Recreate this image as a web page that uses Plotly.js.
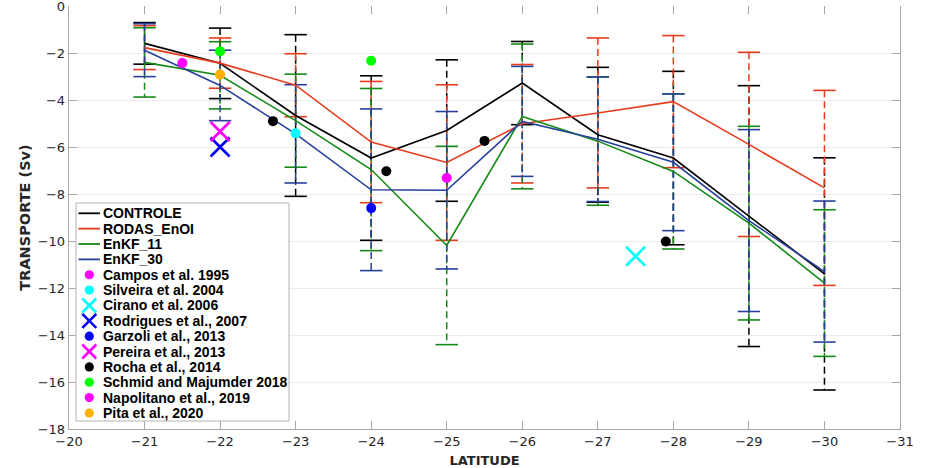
<!DOCTYPE html>
<html>
<head>
<meta charset="utf-8">
<script src="https://cdn.plot.ly/plotly-3.0.1.min.js"></script>
<style>html,body{margin:0;padding:0;background:#fff;}#chart{width:932px;height:468px;}</style>
</head>
<body>
<div id="chart"></div>
<script>
// ---- data ----
const latitudes = [-21, -22, -23, -24, -25, -26, -27, -28, -29, -30];

const controle    = [-1.59, -2.44, -4.66, -6.47, -5.30, -3.28, -5.48, -6.47, -8.94, -11.40];
const controleErr = [0.885, 1.50, 3.44, 3.50, 3.01, 1.77, 2.87, 3.69, 5.55, 4.94];

const rodas    = [-1.77, -2.43, -3.37, -5.79, -6.66, -5.01, -4.55, -4.07, -5.89, -7.74];
const rodasErr = [0.935, 1.07, 1.34, 2.58, 3.31, 2.52, 3.19, 2.81, 3.92, 4.15];

const enkf11    = [-2.40, -2.95, -4.88, -6.96, -10.19, -4.70, -5.75, -7.04, -9.24, -11.79];
const enkf11Err = [1.475, 1.43, 1.98, 3.45, 4.22, 3.08, 2.73, 3.30, 4.12, 3.12];

const enkf30    = [-1.88, -3.38, -5.44, -7.82, -7.84, -4.91, -5.67, -6.65, -9.13, -11.30];
const enkf30Err = [1.125, 1.50, 2.09, 3.44, 3.35, 2.34, 2.65, 2.91, 3.87, 3.00];

const camposLat = [-21.5],  camposVal = [-2.43];
const silveiraLat = [-23],  silveiraVal = [-5.42];
const ciranoLat = [-27.5],  ciranoVal = [-10.65];
const rodriguesLat = [-22], rodriguesVal = [-6.0];
const garzoliLat = [-24],   garzoliVal = [-8.6];
const pereiraLat = [-22],   pereiraVal = [-5.34];
const rochaLat = [-22.7, -24.2, -25.5, -27.9], rochaVal = [-4.9, -7.03, -5.74, -10.02];
const schmidLat = [-22, -24], schmidVal = [-1.93, -2.33];
const napolitanoLat = [-25], napolitanoVal = [-7.32];
const pitaLat = [-22], pitaVal = [-2.92];

const yTicks = [-18, -16, -14, -12, -10, -8, -6, -4, -2, 0];
const xTicks = [-20, -21, -22, -23, -24, -25, -26, -27, -28, -29, -30, -31];

// ---- styles ----
const C_BLACK = '#000000', C_RED = '#e63c1c', C_GREEN = '#168a16', C_BLUE = '#27409a';
const FONT = 'DejaVu Sans, Verdana, sans-serif';
const LFONT = 'Liberation Sans, Arial, sans-serif';
const W = 932, H = 468, M = {l: 69, r: 32, t: 6, b: 39};

function errTrace(vals, errs, color) {
  const x = [], y = [];
  latitudes.forEach((la, i) => {
    x.push(la, la, null);
    y.push(vals[i] + errs[i], vals[i] - errs[i], null);
  });
  return {
    x: x, y: y, type: 'scatter', mode: 'lines+markers', showlegend: false, hoverinfo: 'skip',
    line: {color: color, width: 1.5, dash: '7px,4px'},
    marker: {symbol: 'line-ew', size: 16, color: color, line: {color: color, width: 1.6}}
  };
}
function lineTrace(vals, name, color) {
  return {x: latitudes, y: vals, name: name, type: 'scatter', mode: 'lines',
          line: {color: color, width: 1.6}};
}
function dotTrace(xs, ys, name, color) {
  return {x: xs, y: ys, name: name, type: 'scatter', mode: 'markers',
          marker: {symbol: 'circle', size: 10, color: color}};
}
function xTrace(xs, ys, name, color) {
  return {x: xs, y: ys, name: name, type: 'scatter', mode: 'markers',
          marker: {symbol: 'x-thin', size: 19, color: color, line: {color: color, width: 2.6}}};
}

const traces = [
  errTrace(controle, controleErr, C_BLACK),
  errTrace(rodas, rodasErr, C_RED),
  errTrace(enkf11, enkf11Err, C_GREEN),
  errTrace(enkf30, enkf30Err, C_BLUE),
  lineTrace(controle, 'CONTROLE', C_BLACK),
  lineTrace(rodas, 'RODAS_EnOI', C_RED),
  lineTrace(enkf11, 'EnKF_11', C_GREEN),
  lineTrace(enkf30, 'EnKF_30', C_BLUE),
  dotTrace(camposLat, camposVal, 'Campos et al. 1995', '#ff00ff'),
  dotTrace(silveiraLat, silveiraVal, 'Silveira et al. 2004', '#00ffff'),
  xTrace(ciranoLat, ciranoVal, 'Cirano et al. 2006', '#00ffff'),
  xTrace(rodriguesLat, rodriguesVal, 'Rodrigues et al., 2007', '#0000ff'),
  dotTrace(garzoliLat, garzoliVal, 'Garzoli et al., 2013', '#0000ff'),
  xTrace(pereiraLat, pereiraVal, 'Pereira et al., 2013', '#ff00ff'),
  dotTrace(rochaLat, rochaVal, 'Rocha et al., 2014', '#000000'),
  dotTrace(schmidLat, schmidVal, 'Schmid and Majumder 2018', '#00ff00'),
  dotTrace(napolitanoLat, napolitanoVal, 'Napolitano et al., 2019', '#ff00ff'),
  dotTrace(pitaLat, pitaVal, 'Pita et al., 2020', '#ffb000'),
  // carrier for the top tick axis
  {x: latitudes, y: controle, xaxis: 'x2', yaxis: 'y', mode: 'none', type: 'scatter',
   showlegend: false, hoverinfo: 'skip'}
];

// ---- compact legend (MATLAB-style row spacing) built from the named traces ----
const pw = W - M.l - M.r, ph = H - M.t - M.b;
const px = v => (v - M.l) / pw;          // pixel -> paper x
const py = v => (H - M.b - v) / ph;      // pixel -> paper y
const LEG = {left: 76, right: 289, top: 203, bottom: 421, row0: 213.3, step: 15.36,
             lineA: 78.5, lineB: 100, mark: 89.3, text: 101.5};
const shapes = [{type: 'rect', xref: 'paper', yref: 'paper', layer: 'above',
  x0: px(LEG.left), x1: px(LEG.right), y0: py(LEG.bottom), y1: py(LEG.top),
  fillcolor: '#ffffff', line: {color: '#b4b4b4', width: 1}}];
const annotations = [];
traces.filter(t => t.name && t.showlegend !== false).forEach((t, i) => {
  const cy = LEG.row0 + i * LEG.step;
  t.showlegend = false;
  if (t.mode === 'lines') {
    shapes.push({type: 'line', xref: 'paper', yref: 'paper', layer: 'above',
      x0: px(LEG.lineA), x1: px(LEG.lineB), y0: py(cy), y1: py(cy),
      line: {color: t.line.color, width: 1.8}});
  } else if (t.marker.symbol === 'circle') {
    const r = 4.6;
    shapes.push({type: 'circle', xref: 'paper', yref: 'paper', layer: 'above',
      x0: px(LEG.mark - r), x1: px(LEG.mark + r), y0: py(cy + r), y1: py(cy - r),
      fillcolor: t.marker.color, line: {width: 0}});
  } else {
    const h = 7;
    [[-1, -1, 1, 1], [-1, 1, 1, -1]].forEach(d => shapes.push({type: 'line', xref: 'paper', yref: 'paper',
      layer: 'above', x0: px(LEG.mark + d[0] * h), y0: py(cy + d[1] * h),
      x1: px(LEG.mark + d[2] * h), y1: py(cy + d[3] * h),
      line: {color: t.marker.color, width: 2.6}}));
  }
  annotations.push({text: t.name, xref: 'paper', yref: 'paper', x: px(LEG.text), y: py(cy),
    xanchor: 'left', yanchor: 'middle', showarrow: false, borderpad: 0,
    font: {family: LFONT, size: 14, color: '#000000', weight: 'bold'}});
});

const axisCol = '#a8a8a8';
const layout = {
  width: W, height: H,
  margin: M,
  paper_bgcolor: '#fff', plot_bgcolor: '#fff',
  font: {family: FONT, size: 13, color: '#262626'},
  showlegend: false,
  shapes: shapes, annotations: annotations,
  xaxis: {
    range: [-20, -31], tickvals: xTicks, ticktext: xTicks.map(v => '\u2212' + Math.abs(v)),
    ticks: 'inside', ticklen: 8, tickcolor: axisCol, tickwidth: 1,
    showline: true, linecolor: axisCol, linewidth: 1.3, mirror: false,
    showgrid: false, zeroline: false,
    tickfont: {family: FONT, size: 13, color: '#262626'},
    title: {text: '<b>LATITUDE</b>', font: {family: FONT, size: 13, color: '#262626'}, standoff: 8}
  },
  xaxis2: {
    overlaying: 'x', side: 'top', anchor: 'y', range: [-20, -31], tickvals: xTicks,
    ticks: 'inside', ticklen: 8, tickcolor: axisCol, showticklabels: false,
    showline: false, showgrid: false, zeroline: false
  },
  yaxis: {
    range: [-18, 0], tickvals: yTicks, ticktext: yTicks.map(v => v === 0 ? '0' : '\u2212' + Math.abs(v)),
    ticks: 'inside', ticklen: 8, tickcolor: axisCol, tickwidth: 1,
    showline: true, linecolor: axisCol, linewidth: 1.3, mirror: 'ticks',
    showgrid: true, gridcolor: '#ebebeb', gridwidth: 1, zeroline: false,
    ticklabeloverflow: 'allow',
    tickfont: {family: FONT, size: 13, color: '#262626'},
    title: {text: '<b>TRANSPORTE (Sv)</b>', font: {family: FONT, size: 14.5, color: '#262626'}, standoff: 3}
  }
};

Plotly.newPlot('chart', traces, layout, {displayModeBar: false, staticPlot: true});
</script>
</body>
</html>
